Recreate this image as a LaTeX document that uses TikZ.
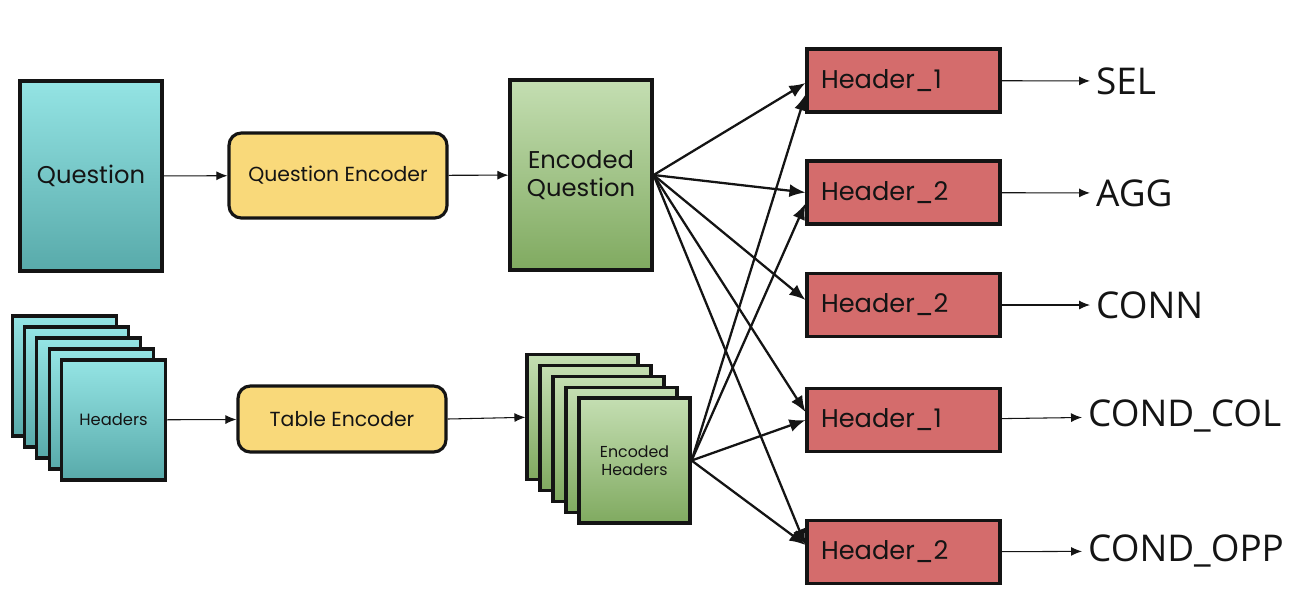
\documentclass[tikz,border=0pt]{standalone}
\usepackage{fontspec}
\setmainfont{Poppins}
\newfontfamily\outfont{Open Sans}
\usetikzlibrary{arrows.meta,positioning,calc}
\definecolor{tealtop}{RGB}{148,228,228}
\definecolor{tealbot}{RGB}{88,170,170}
\definecolor{greentop}{RGB}{196,222,178}
\definecolor{greenbot}{RGB}{128,170,96}
\definecolor{mustard}{RGB}{249,217,122}
\definecolor{salmon}{RGB}{212,108,108}
\definecolor{ink}{RGB}{20,20,20}
\tikzset{
  inbox/.style    = {draw=ink, line width=1.8pt, top color=tealtop, bottom color=tealbot,
                     align=center, text=ink},
  codebox/.style  = {draw=ink, line width=1.8pt, top color=greentop, bottom color=greenbot,
                     align=center, text=ink},
  encbox/.style   = {draw=ink, line width=1.8pt, fill=mustard, rounded corners=7pt,
                     align=center, text=ink, font=\fontsize{11.6}{13}\selectfont},
  headbox/.style  = {draw=ink, line width=1.8pt, fill=salmon, text=ink,
                     minimum width=3.86cm, minimum height=1.26cm, text width=3.3cm,
                     align=left, font=\fontsize{14.6}{16}\selectfont},
  outlbl/.style   = {anchor=west, text=ink, font=\outfont\fontsize{21}{24}\selectfont},
  thin/.style     = {-{Latex[length=2.2mm,width=1.8mm]}, draw=ink, line width=0.6pt},
  fan/.style      = {-{Latex[length=3.2mm,width=2.6mm]}, draw=ink, line width=1.3pt},
}
\begin{document}
\begin{tikzpicture}[x=0.02cm, y=-0.02cm]
\useasboundingbox (0,0) rectangle (1300,600);

% question branch
\node[inbox, minimum width=2.84cm, minimum height=3.8cm,
      font=\fontsize{13.8}{15}\selectfont] (question) at (91,176) {Question};
\node[encbox, minimum width=4.36cm, minimum height=1.7cm] (qenc) at (338,175.5) {Question Encoder};
\node[codebox, minimum width=2.84cm, minimum height=3.8cm,
      font=\fontsize{13.8}{16}\selectfont] (encq) at (581,175) {Encoded\\Question};

\draw[thin] (question) -- (qenc);
\draw[thin] (qenc) -- (encq);

% table branch: stacked header cards
\foreach \i in {4,...,1}
  \node[inbox, minimum width=2.08cm, minimum height=2.4cm]
       (hdr\i) at ({113.5-12.3*\i},{420-11*\i}) {};
\node[inbox, minimum width=2.08cm, minimum height=2.4cm,
      font=\fontsize{9.3}{11}\selectfont] (hdr0) at (113.5,420) {Headers};
\node[encbox, minimum width=4.16cm, minimum height=1.32cm] (tenc) at (342,419) {Table Encoder};

\foreach \i in {4,...,1}
  \node[codebox, minimum width=2.22cm, minimum height=2.5cm]
       (eh\i) at ({634.5-13*\i},{460.5-10.8*\i}) {};
\node[codebox, minimum width=2.22cm, minimum height=2.5cm,
      font=\fontsize{9}{10.5}\selectfont] (eh0) at (634.5,460.5) {Encoded\\Headers};

\draw[thin] (hdr0) -- (tenc);
\draw[thin] (tenc.east) -- (eh4.west);

% header slots and outputs
\node[headbox] (h1) at (903.5,80.5) {Header\_1};
\node[headbox] (h2) at (903.5,192.5) {Header\_2};
\node[headbox] (h3) at (903.5,305) {Header\_2};
\node[headbox] (h4) at (903.5,420) {Header\_1};
\node[headbox] (h5) at (903.5,552) {Header\_2};

\node[outlbl] (sel)  at (1090,81) {SEL};
\node[outlbl] (agg)  at (1090,193) {AGG};
\node[outlbl] (conn) at (1090,305) {CONN};
\node[outlbl] (ccol) at (1082,416) {COND\_COL};
\node[outlbl] (copp) at (1082,551) {COND\_OPP};

\draw[thin] (h1) -- (sel);
\draw[thin] (h2) -- (agg);
\draw[thin] (h3) -- (conn);
\draw[thin] (h4) -- (ccol);
\draw[thin] (h5) -- (copp);

% fan-out from encoded question
\draw[fan] (encq.east) -- ([yshift=-0.05cm]h1.west);
\draw[fan] (encq.east) -- (h2.west);
\draw[fan] (encq.east) -- ([yshift=0.1cm]h3.west);
\draw[fan] (encq.east) -- ([yshift=0.16cm]h4.west);
\draw[fan] (encq.east) -- ([yshift=0.14cm]h5.west);

% fan-out from encoded headers
\draw[fan] (eh0.east) -- ([yshift=-0.28cm]h1.west);
\draw[fan] (eh0.east) -- ([yshift=-0.22cm]h2.west);
\draw[fan] (eh0.east) -- (h4.west);
\draw[fan] (eh0.east) -- ([yshift=0.14cm]h5.west);
\end{tikzpicture}
\end{document}
